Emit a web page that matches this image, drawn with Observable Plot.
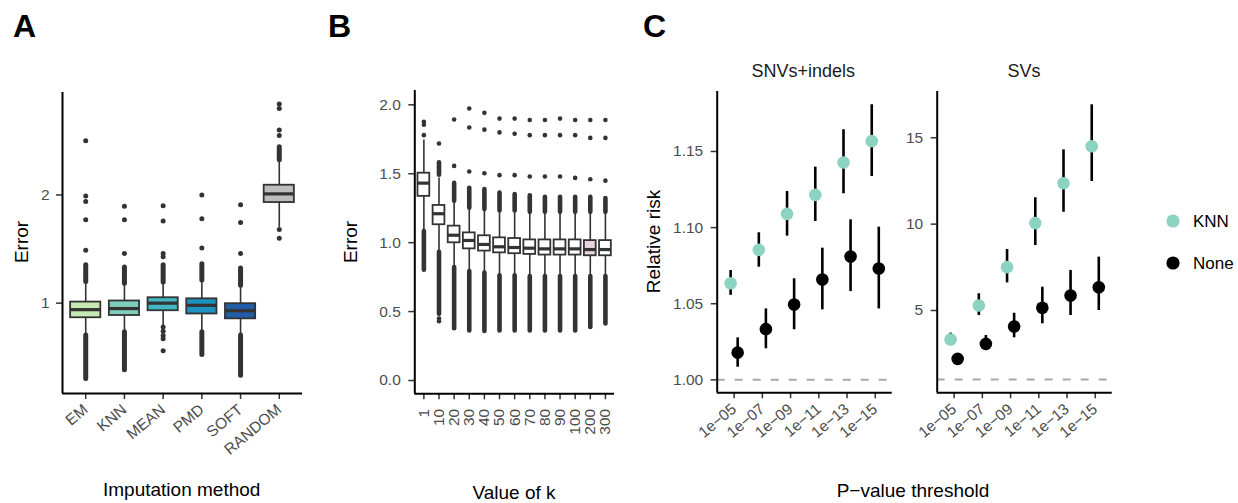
<!DOCTYPE html>
<html>
<head>
<meta charset="utf-8">
<script src="https://cdn.jsdelivr.net/npm/d3@7"></script>
<script src="https://cdn.jsdelivr.net/npm/@observablehq/plot@0.6"></script>
<style>
  body { margin: 0; background: #fff; }
  #wrap { position: relative; width: 1238px; height: 503px; overflow: hidden; background: #fff; }
  .panel { position: absolute; top: 0; }
  #overlay { position: absolute; left: 0; top: 0; pointer-events: none; }
</style>
</head>
<body>
<div id="wrap"></div>
<script>
// ---------------- Panel A data ----------------
const methods = ["EM", "KNN", "MEAN", "PMD", "SOFT", "RANDOM"];
const methodColors = ["#c7e9b4", "#7fcdbb", "#41b6c4", "#1d91c0", "#225ea8", "#bdbdbd"];
const methodQ1 = [0.865, 0.886, 0.93, 0.90, 0.855, 1.93];
const methodMedian = [0.94, 0.95, 1.0, 0.98, 0.93, 2.01];
const methodQ3 = [1.01, 1.02, 1.05, 1.04, 0.995, 2.09];
const methodWhiskerLo = [0.70, 0.73, 0.79, 0.73, 0.70, 1.70];
const methodWhiskerHi = [1.195, 1.18, 1.19, 1.21, 1.16, 2.32];
const methodOutliers = [
  [2.5, 1.99, 1.94, 1.77, 1.49],
  [1.895, 1.77, 1.46],
  [1.9, 1.76, 1.46, 1.43, 0.78, 0.74, 0.70, 0.67, 0.56],
  [2.0, 1.78, 1.51],
  [1.91, 1.745, 1.46],
  [2.84, 2.8, 2.6, 2.55, 1.68, 1.6]
];
const methodOutlierRunLo = [[1.195, 0.30], [1.18, 0.38], [1.19], [1.21, 0.52], [1.16, 0.33], [2.32]];
const methodOutlierRunHi = [[1.35, 0.70], [1.33, 0.73], [1.35], [1.36, 0.73], [1.32, 0.70], [2.44]];

// ---------------- Panel B data ----------------
const kValues = ["1", "10", "20", "30", "40", "50", "60", "70", "80", "90", "100", "200", "300"];
const kFills = ["#ffffff", "#ffffff", "#ffffff", "#ffffff", "#ffffff", "#ffffff", "#ffffff", "#ffffff", "#ffffff", "#ffffff", "#ffffff", "#e9d3df", "#ffffff"];
const kQ1 = [1.336, 1.13, 0.999, 0.955, 0.939, 0.926, 0.92, 0.915, 0.91, 0.91, 0.91, 0.905, 0.905];
const kMedian = [1.432, 1.21, 1.054, 1.016, 0.987, 0.97, 0.965, 0.96, 0.955, 0.955, 0.955, 0.95, 0.95];
const kQ3 = [1.504, 1.27, 1.12, 1.071, 1.05, 1.035, 1.03, 1.02, 1.02, 1.02, 1.02, 1.015, 1.015];
const kWhiskerLo = [1.095, 0.94, 0.83, 0.794, 0.783, 0.76, 0.76, 0.755, 0.755, 0.755, 0.755, 0.755, 0.755];
const kWhiskerHi = [1.745, 1.47, 1.30, 1.25, 1.24, 1.23, 1.23, 1.22, 1.22, 1.22, 1.22, 1.22, 1.22];
const kOutliers = [
  [1.877, 1.855, 1.78],
  [1.72, 0.45, 0.43],
  [1.894, 1.557],
  [1.973, 1.836, 1.516],
  [1.942, 1.82, 1.504],
  [1.90, 1.80, 1.49],
  [1.90, 1.79, 1.49],
  [1.89, 1.78, 1.48],
  [1.89, 1.78, 1.48],
  [1.90, 1.78, 1.48],
  [1.89, 1.78, 1.47],
  [1.89, 1.76, 1.46],
  [1.89, 1.76, 1.45]
];
const kOutlierRunLo = [[0.80], [1.49, 0.48], [1.30, 0.375], [1.25, 0.36], [1.24, 0.355], [1.23, 0.36], [1.23, 0.36], [1.22, 0.36], [1.22, 0.36], [1.22, 0.36], [1.22, 0.36], [1.22, 0.385], [1.22, 0.41]];
const kOutlierRunHi = [[1.08], [1.58, 0.93], [1.43, 0.82], [1.395, 0.79], [1.386, 0.78], [1.36, 0.76], [1.35, 0.76], [1.34, 0.755], [1.33, 0.755], [1.33, 0.755], [1.33, 0.755], [1.33, 0.755], [1.32, 0.755]];

// ---------------- Panel C data ----------------
const thresholds = ["1e\u221205", "1e\u221207", "1e\u221209", "1e\u221211", "1e\u221213", "1e\u221215"];
const groups = ["KNN", "None"];
const groupColors = ["#8dd3c2", "#000000"];
const snvKnn = [1.0635, 1.0854, 1.109, 1.1215, 1.1428, 1.1568];
const snvKnnLo = [1.0555, 1.074, 1.0944, 1.104, 1.1222, 1.1336];
const snvKnnHi = [1.0718, 1.0966, 1.1237, 1.1397, 1.1643, 1.1807];
const snvNone = [1.0179, 1.0333, 1.0495, 1.0659, 1.081, 1.0731];
const snvNoneLo = [1.0083, 1.0204, 1.0329, 1.046, 1.058, 1.0466];
const snvNoneHi = [1.0276, 1.0466, 1.0664, 1.0865, 1.1051, 1.1003];
const svKnn = [3.32, 5.29, 7.51, 10.06, 12.37, 14.51];
const svKnnLo = [3.03, 4.71, 6.6, 8.76, 10.69, 12.47];
const svKnnHi = [3.69, 5.97, 8.53, 11.53, 14.3, 16.91];
const svNone = [2.2, 3.07, 4.07, 5.16, 5.87, 6.35];
const svNoneLo = [2.0, 2.68, 3.42, 4.23, 4.71, 5.0];
const svNoneHi = [2.45, 3.55, 4.84, 6.35, 7.32, 8.09];

// ---------------- helpers ----------------
const FONT = '"Liberation Sans", Arial, Helvetica, sans-serif';
const TICK_TEXT = "#4d4d4d";
const TICK_LINE = "#333333";
const TICK_FONT = 15.5;
const wrap = document.getElementById("wrap");

function place(svg, left) {
  svg.classList.add("panel");
  svg.style.left = left + "px";
  wrap.appendChild(svg);
}

function boxRows(names, fills, q1, med, q3, wlo, whi) {
  return names.map((n, i) => ({i: i + 1, name: n, fill: fills[i], q1: q1[i], med: med[i], q3: q3[i], lo: wlo[i], hi: whi[i]}));
}
function dotRows(outliers) {
  return outliers.flatMap((vals, i) => vals.map(v => ({i: i + 1, v})));
}
function runRows(los, his) {
  return los.flatMap((arr, i) => arr.map((lo, j) => ({i: i + 1, lo, hi: his[i][j]})));
}

function boxMarks(rows, dots, runs, half, dotR) {
  return [
    Plot.ruleX(rows, {x: "i", y1: "lo", y2: "hi", stroke: TICK_LINE, strokeWidth: 1.6}),
    Plot.ruleX(runs, {x: "i", y1: "lo", y2: "hi", stroke: TICK_LINE, strokeWidth: dotR * 2, strokeLinecap: "round"}),
    Plot.dot(dots, {x: "i", y: "v", r: dotR, fill: TICK_LINE, stroke: null}),
    Plot.rect(rows, {x1: d => d.i - half, x2: d => d.i + half, y1: "q1", y2: "q3", fill: "fill", stroke: TICK_LINE, strokeWidth: 1.8}),
    Plot.ruleY(rows, {y: "med", x1: d => d.i - half, x2: d => d.i + half, stroke: TICK_LINE, strokeWidth: 3.2})
  ];
}

const baseStyle = {fontFamily: FONT, fontSize: TICK_FONT + "px", background: "transparent", overflow: "visible"};
const axisStyle = {label: null, stroke: TICK_LINE, fill: TICK_TEXT, strokeWidth: 1.5, fontSize: TICK_FONT, tickSize: 6};

// ---------------- Panel A ----------------
const aRows = boxRows(methods, methodColors, methodQ1, methodMedian, methodQ3, methodWhiskerLo, methodWhiskerHi);
const aDomainY = [0.165, 2.947];
const plotA = Plot.plot({
  width: 310, height: 503,
  marginLeft: 62, marginRight: 8, marginTop: 92, marginBottom: 110,
  style: baseStyle,
  x: {type: "linear", domain: [0.4, 6.6]},
  y: {domain: aDomainY},
  color: {type: "identity"},
  marks: [
    Plot.axisY({...axisStyle, ticks: [1, 2], tickFormat: d3.format("d"), tickPadding: 7}),
    Plot.axisX({...axisStyle, ticks: d3.range(1, 7), tickFormat: i => methods[i - 1], tickRotate: -40, tickPadding: 8}),
    ...boxMarks(aRows, dotRows(methodOutliers), runRows(methodOutlierRunLo, methodOutlierRunHi), 0.39, 2.5),
    Plot.ruleX([0.4], {stroke: "#000", strokeWidth: 2}),
    Plot.ruleY([aDomainY[0]], {stroke: "#000", strokeWidth: 2})
  ]
});
place(plotA, 0);

// ---------------- Panel B ----------------
const bRows = boxRows(kValues, kFills, kQ1, kMedian, kQ3, kWhiskerLo, kWhiskerHi);
const bDomainY = [-0.0965, 2.104];
const plotB = Plot.plot({
  width: 330, height: 503,
  marginLeft: 104.3, marginRight: 26, marginTop: 90, marginBottom: 109.7,
  style: baseStyle,
  x: {type: "linear", domain: [0.4, 13.6]},
  y: {domain: bDomainY},
  color: {type: "identity"},
  marks: [
    Plot.axisY({...axisStyle, ticks: [0, 0.5, 1, 1.5, 2], tickFormat: d3.format(".1f"), tickPadding: 8}),
    Plot.axisX({...axisStyle, ticks: d3.range(1, 14), tickFormat: i => kValues[i - 1], tickRotate: -90, tickPadding: 9}),
    ...boxMarks(bRows, dotRows(kOutliers), runRows(kOutlierRunLo, kOutlierRunHi), 0.39, 2.3),
    Plot.ruleX([0.4], {stroke: "#000", strokeWidth: 2}),
    Plot.ruleY([bDomainY[0]], {stroke: "#000", strokeWidth: 2})
  ]
});
place(plotB, 310);

// ---------------- Panel C ----------------
function riskRows(knn, knnLo, knnHi, none, noneLo, noneHi) {
  const rows = [];
  thresholds.forEach((t, i) => {
    rows.push({i: i + 1, group: groups[0], v: knn[i], lo: knnLo[i], hi: knnHi[i]});
    rows.push({i: i + 1, group: groups[1], v: none[i], lo: noneLo[i], hi: noneHi[i]});
  });
  return rows;
}
const dodge = d => d.i + (d.group === groups[0] ? -0.125 : 0.125);

function riskPlot(rows, domainY, ticks, fmt, width, marginLeft) {
  return Plot.plot({
    width, height: 503,
    marginLeft, marginRight: width - marginLeft - 175, marginTop: 91, marginBottom: 110.7,
    style: baseStyle,
    x: {type: "linear", domain: [0.4, 6.6]},
    y: {domain: domainY},
    color: {domain: groups, range: groupColors},
    marks: [
      Plot.axisY({...axisStyle, ticks, tickFormat: fmt, tickPadding: 8}),
      Plot.axisX({...axisStyle, ticks: d3.range(1, 7), tickFormat: i => thresholds[i - 1], tickRotate: -40, tickPadding: 8}),
      Plot.ruleY([1], {stroke: "#a8a8a8", strokeWidth: 2, strokeDasharray: "8,10"}),
      Plot.ruleX(rows, {x: dodge, y1: "lo", y2: "hi", stroke: "#000", strokeWidth: 2.6}),
      Plot.dot(rows, {x: dodge, y: "v", r: 6.3, fill: "group", stroke: null}),
      Plot.ruleX([0.4], {stroke: "#000", strokeWidth: 2}),
      Plot.ruleY([domainY[0]], {stroke: "#000", strokeWidth: 2})
    ]
  });
}
const plotC1 = riskPlot(riskRows(snvKnn, snvKnnLo, snvKnnHi, snvNone, snvNoneLo, snvNoneHi),
  [0.9915, 1.1894], [1.0, 1.05, 1.1, 1.15], d3.format(".2f"), 270, 86.7);
place(plotC1, 630);
const plotC2 = riskPlot(riskRows(svKnn, svKnnLo, svKnnHi, svNone, svNoneLo, svNoneHi),
  [0.235, 17.68], [5, 10, 15], d3.format("d"), 220, 36.7);
place(plotC2, 900);

// ---------------- titles, labels, legend ----------------
const overlay = d3.select(wrap).append("svg").attr("id", "overlay")
  .attr("width", 1238).attr("height", 503)
  .style("font-family", FONT);

const letters = [["A", 13], ["B", 328], ["C", 643]];
overlay.selectAll("text.letter").data(letters).join("text")
  .attr("class", "letter").attr("x", d => d[1]).attr("y", 37)
  .attr("font-size", 32).attr("font-weight", "bold").attr("fill", "#000").text(d => d[0]);

const xTitles = [["Imputation method", 181.7, 496], ["Value of k", 514, 499], ["P\u2212value threshold", 913, 497]];
overlay.selectAll("text.xt").data(xTitles).join("text")
  .attr("class", "xt").attr("x", d => d[1]).attr("y", d => d[2]).attr("text-anchor", "middle")
  .attr("font-size", 19).attr("fill", "#000").text(d => d[0]);

const yTitles = [["Error", 28, 242], ["Error", 356.5, 242], ["Relative risk", 660, 241.5]];
overlay.selectAll("text.yt").data(yTitles).join("text")
  .attr("class", "yt").attr("transform", d => `translate(${d[1]},${d[2]}) rotate(-90)`)
  .attr("text-anchor", "middle").attr("font-size", 19).attr("fill", "#000").text(d => d[0]);

const facetTitles = [["SNVs+indels", 803.3], ["SVs", 1024]];
overlay.selectAll("text.ft").data(facetTitles).join("text")
  .attr("class", "ft").attr("x", d => d[1]).attr("y", 77).attr("text-anchor", "middle")
  .attr("font-size", 18).attr("fill", "#1a1a1a").text(d => d[0]);

const legendY = [221, 263];
const lg = overlay.selectAll("g.lg").data(groups).join("g").attr("class", "lg")
  .attr("transform", (d, i) => `translate(1173,${legendY[i]})`);
lg.append("circle").attr("r", 6.6).attr("fill", (d, i) => groupColors[i]);
lg.append("text").attr("x", 20).attr("y", 6).attr("font-size", 17).attr("fill", "#000").text(d => d);
</script>
</body>
</html>
